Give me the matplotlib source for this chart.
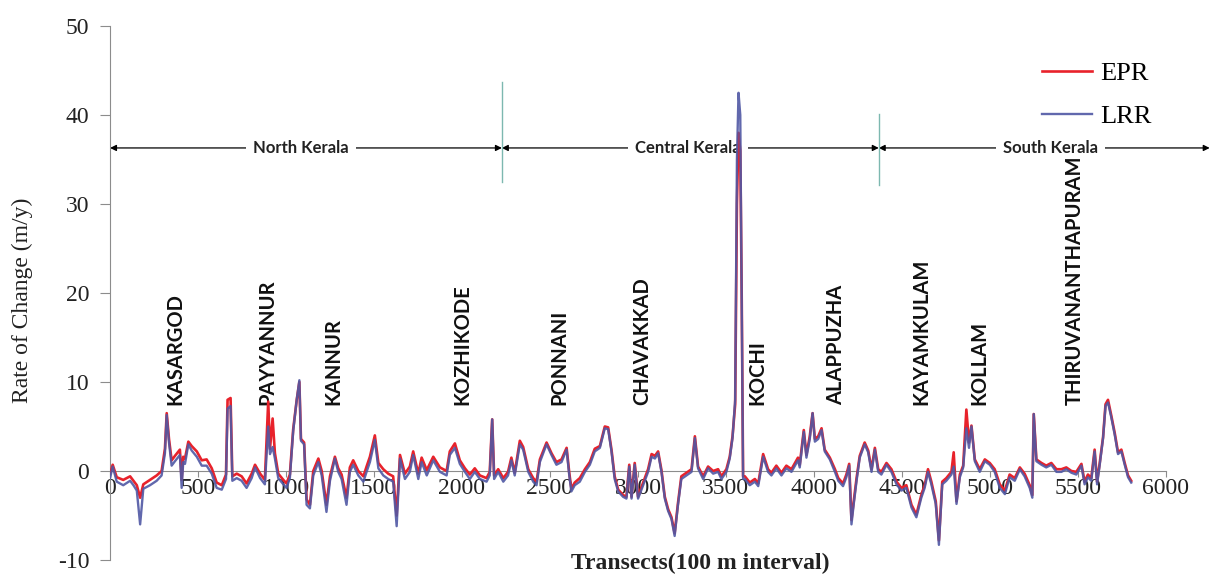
import numpy as np
import matplotlib
matplotlib.use("Agg")
import matplotlib.pyplot as plt

plt.rcParams["axes.unicode_minus"] = False

# transect number (100 m interval) and rates of change
transect = [
    0, 15, 38, 75, 114, 133, 152, 171, 189, 227, 265, 293, 312, 322, 335, 350, 369, 397, 407, 416,
    426, 445, 464, 493, 521, 549, 578, 606, 635, 659, 668, 685, 695, 720, 748, 776, 805, 824, 853, 880,
    899, 909, 924, 937, 956, 985, 1003, 1022, 1041, 1061, 1076, 1085, 1103, 1117, 1136, 1155, 1184, 1203, 1230, 1250,
    1278, 1297, 1316, 1344, 1363, 1382, 1411, 1440, 1458, 1477, 1505, 1525, 1553, 1581, 1609, 1629, 1648, 1676, 1704, 1723,
    1752, 1771, 1800, 1837, 1875, 1913, 1931, 1960, 1988, 2017, 2045, 2073, 2102, 2140, 2158, 2172, 2183, 2206, 2235, 2262,
    2281, 2300, 2329, 2348, 2377, 2405, 2424, 2443, 2481, 2509, 2537, 2566, 2595, 2610, 2622, 2641, 2670, 2699, 2727, 2755,
    2784, 2812, 2831, 2850, 2868, 2888, 2916, 2935, 2951, 2964, 2982, 3001, 3030, 3058, 3078, 3097, 3115, 3134, 3153, 3172,
    3191, 3209, 3228, 3247, 3276, 3305, 3324, 3342, 3371, 3399, 3428, 3456, 3475, 3503, 3522, 3538, 3553, 3563, 3572, 3582,
    3590, 3598, 3608, 3636, 3665, 3684, 3712, 3740, 3759, 3787, 3816, 3844, 3873, 3910, 3920, 3943, 3958, 3977, 3993, 4006,
    4025, 4044, 4062, 4091, 4120, 4139, 4166, 4185, 4201, 4214, 4227, 4243, 4261, 4289, 4309, 4328, 4347, 4366, 4384, 4413,
    4441, 4470, 4498, 4526, 4555, 4583, 4611, 4630, 4649, 4668, 4693, 4711, 4730, 4753, 4782, 4795, 4811, 4830, 4849, 4867,
    4882, 4896, 4915, 4943, 4972, 5000, 5028, 5057, 5086, 5113, 5142, 5171, 5198, 5227, 5242, 5250, 5265, 5294, 5321, 5350,
    5379, 5407, 5435, 5464, 5492, 5521, 5539, 5558, 5577, 5596, 5610, 5625, 5644, 5658, 5672, 5691, 5710, 5729, 5748, 5767,
    5786, 5804,
]

lrr = [
    -0.8, 0.5, -1.2, -1.6, -1.1, -1.6, -2.2, -6.0, -2.0, -1.6, -1.1, -0.5, 2.0, 6.3, 3.2, 0.6, 1.1, 1.8, -1.9, 1.0,
    0.8, 3.0, 2.3, 1.6, 0.6, 0.6, -0.3, -1.9, -2.1, -0.9, 7.0, 7.3, -1.1, -0.8, -1.1, -1.9, -0.8, 0.4, -0.8, -1.5,
    5.0, 1.9, 2.7, 1.4, -0.8, -1.5, -1.9, -0.8, 4.5, 8.0, 10.2, 3.4, 3.0, -3.8, -4.2, -0.5, 1.0, -0.5, -4.6, -1.1,
    1.4, -0.1, -0.9, -3.8, -0.1, 0.7, -0.5, -1.2, -0.1, 1.0, 3.5, 0.3, -0.5, -0.9, -1.2, -6.2, 1.4, -0.9, -0.1, 1.8,
    -0.9, 1.0, -0.5, 1.2, -0.1, -0.5, 1.8, 2.6, 0.8, -0.1, -0.9, -0.1, -0.9, -1.2, -0.5, 5.8, -0.9, -0.1, -1.2, -0.5,
    1.2, -0.5, 3.0, 2.4, -0.1, -1.2, -1.6, 1.0, 3.0, 1.8, 0.7, 1.0, 2.4, -0.5, -2.3, -1.6, -1.2, -0.1, 0.7, 2.2,
    2.6, 4.8, 4.7, 2.2, -0.9, -2.3, -2.9, -3.1, 0.5, -3.1, 0.7, -3.1, -1.6, -0.1, 1.6, 1.4, 2.0, -0.1, -3.1, -4.5,
    -5.4, -7.3, -3.8, -0.9, -0.5, -0.1, 3.7, 0.3, -0.9, 0.3, -0.3, -0.1, -0.9, -0.1, 1.4, 3.7, 8.0, 35.0, 42.5, 40.0,
    20.0, -0.9, -0.9, -1.6, -1.2, -1.7, 1.6, -0.1, -0.5, 0.3, -0.5, 0.3, -0.1, 1.2, 0.4, 4.4, 1.5, 3.6, 6.5, 3.3,
    3.6, 4.6, 2.2, 1.3, -0.1, -1.1, -1.7, -0.7, 0.6, -6.0, -3.7, -1.1, 1.5, 3.0, 2.1, -0.1, 2.4, -0.1, -0.4, 0.7,
    -0.1, -1.5, -2.2, -1.9, -4.1, -5.2, -3.0, -1.9, -0.1, -1.5, -3.7, -8.3, -1.5, -1.1, -0.4, 0.5, -3.7, -0.7, 0.4, 4.8,
    2.6, 5.0, 1.1, -0.1, 1.1, 0.7, -0.1, -1.9, -2.6, -0.7, -1.1, 0.2, -0.6, -1.9, -3.0, 6.4, 1.1, 0.7, 0.4, 0.7,
    -0.1, -0.1, 0.2, -0.2, -0.4, 0.6, -1.5, -0.7, -1.1, 2.2, -1.5, 0.7, 3.7, 7.3, 7.7, 6.0, 4.1, 1.9, 2.2, 0.7,
    -0.7, -1.3,
]

epr = [
    -0.3, 0.7, -0.7, -1.0, -0.6, -1.1, -1.6, -3.0, -1.5, -1.0, -0.5, 0.0, 2.5, 6.5, 3.6, 1.2, 1.7, 2.4, -1.0, 1.6,
    1.4, 3.3, 2.8, 2.2, 1.2, 1.3, 0.3, -1.3, -1.6, -0.4, 8.0, 8.2, -0.6, -0.3, -0.6, -1.4, -0.3, 0.7, -0.3, -1.0,
    7.8, 2.5, 5.9, 2.0, -0.3, -1.0, -1.4, -0.4, 4.7, 8.0, 10.0, 3.6, 3.2, -3.2, -3.8, 0.0, 1.4, 0.0, -3.8, -0.6,
    1.6, 0.3, -0.4, -3.0, 0.4, 1.2, 0.0, -0.6, 0.5, 1.6, 4.0, 0.9, 0.2, -0.3, -0.6, -5.0, 1.8, -0.3, 0.5, 2.2,
    -0.3, 1.5, 0.1, 1.6, 0.4, 0.0, 2.2, 3.1, 1.2, 0.3, -0.4, 0.3, -0.5, -0.8, -0.1, 5.8, -0.5, 0.2, -0.8, -0.1,
    1.5, -0.2, 3.4, 2.7, 0.2, -0.8, -1.2, 1.3, 3.2, 2.0, 1.0, 1.3, 2.6, -0.2, -2.0, -1.3, -0.8, 0.2, 1.0, 2.5,
    2.8, 5.0, 4.9, 2.4, -0.6, -2.1, -2.7, -2.9, 0.7, -2.9, 0.9, -2.9, -1.3, 0.2, 1.9, 1.7, 2.2, 0.1, -2.9, -4.3,
    -5.2, -7.0, -3.6, -0.6, -0.2, 0.2, 3.9, 0.5, -0.6, 0.5, 0.0, 0.2, -0.6, 0.2, 1.6, 3.9, 7.5, 30.0, 38.0, 36.0,
    20.0, -0.6, -0.6, -1.3, -0.9, -1.4, 1.9, 0.2, -0.2, 0.6, -0.2, 0.6, 0.2, 1.5, 0.7, 4.6, 1.8, 3.9, 6.5, 3.6,
    3.9, 4.8, 2.4, 1.5, 0.2, -0.8, -1.4, -0.4, 0.8, -5.5, -3.4, -0.8, 1.7, 3.2, 2.3, 0.2, 2.6, 0.2, -0.1, 0.9,
    0.2, -1.2, -1.9, -1.6, -3.8, -4.9, -2.7, -1.6, 0.2, -1.2, -3.4, -7.8, -1.2, -0.8, -0.1, 2.1, -3.4, -0.4, 0.6, 6.9,
    3.2, 5.1, 1.3, 0.2, 1.3, 0.9, 0.2, -1.5, -2.2, -0.4, -0.8, 0.4, -0.3, -1.6, -2.7, 6.4, 1.3, 0.9, 0.6, 0.9,
    0.2, 0.2, 0.4, 0.0, -0.1, 0.8, -1.2, -0.4, -0.8, 2.4, -1.2, 0.9, 3.8, 7.5, 8.0, 6.2, 4.3, 2.1, 2.4, 0.9,
    -0.5, -1.1,
]

cities = ["KASARGOD", "PAYYANNUR", "KANNUR", "KOZHIKODE", "PONNANI", "CHAVAKKAD",
          "KOCHI", "ALAPPUZHA", "KAYAMKULAM", "KOLLAM", "THIRUVANANTHAPURAM"]
city_pos = [369, 895, 1267, 2000, 2551, 3026, 3682, 4125, 4611, 4943, 5483]

regions = ["North Kerala", "Central Kerala", "South Kerala"]
region_bounds = [0, 2227, 4369, 6250]
region_text_pos = [1086, 3284, 5347]

fig = plt.figure(figsize=(12.12, 5.76), dpi=100)
ax = fig.add_axes([0.0908, 0.0278, 0.871, 0.927])

ax.plot(transect, epr, color="#e8222b", lw=1.9, label="EPR", zorder=4)
ax.plot(transect, lrr, color="#5058a4", lw=1.7, alpha=0.9, label="LRR", zorder=5)

ax.set_xlim(0, 6000)
ax.set_ylim(-10, 50)
ax.set_xticks(np.arange(0, 6001, 500))
ax.set_yticks(np.arange(-10, 51, 10))

for s in ["top", "right"]:
    ax.spines[s].set_visible(False)
ax.spines["bottom"].set_position(("data", 0))
ax.spines["bottom"].set_color("#8c8c8c")
ax.spines["left"].set_color("#8c8c8c")
ax.tick_params(axis="y", colors="#8c8c8c", length=7, labelcolor="#222222",
               labelsize=17, pad=8)
ax.tick_params(axis="x", colors="#8c8c8c", length=4, labelcolor="#222222",
               labelsize=17, pad=1)
for lab in ax.get_xticklabels() + ax.get_yticklabels():
    lab.set_family("Liberation Serif")

# region arrows
for i in range(3):
    ax.annotate("", xy=(region_bounds[i], 36.3), xytext=(region_bounds[i + 1], 36.3),
                arrowprops=dict(arrowstyle="<|-|>", color="black", lw=0.9,
                                mutation_scale=9, shrinkA=0, shrinkB=0),
                annotation_clip=False, zorder=2)
    ax.text(region_text_pos[i], 36.3, regions[i], ha="center", va="center",
            fontsize=12, fontweight="bold", family="Lato", color="#222222", zorder=3,
            bbox=dict(facecolor="white", edgecolor="none", pad=5))
ax.plot([2227, 2227], [32.5, 43.7], color="#7db8b0", lw=1)
ax.plot([4369, 4369], [32.1, 40.1], color="#7db8b0", lw=1)

# cities
for name, pos in zip(cities, city_pos):
    ax.text(pos, 7.4, name, rotation=90, ha="center", va="bottom",
            fontsize=14.5, fontweight="bold", family="Lato", color="#111111")

ax.legend(loc="upper left", bbox_to_anchor=(1018 / 1212, 1 - 38 / 576),
          bbox_transform=fig.transFigure, frameon=False, handlelength=1.9,
          labelspacing=0.75, handletextpad=0.3,
          prop={"family": "Liberation Serif", "size": 19})

fig.text(22 / 1212, 1 - 300 / 576, "Rate of Change (m/y)", rotation=90,
         ha="center", va="center", fontsize=17, family="Liberation Serif", color="#222222")
fig.text(700 / 1212, 1 - 563 / 576, "Transects(100 m interval)", ha="center", va="center",
         fontsize=17, fontweight="bold", family="Liberation Serif", color="#222222")

fig.savefig("out.png", dpi=100)
